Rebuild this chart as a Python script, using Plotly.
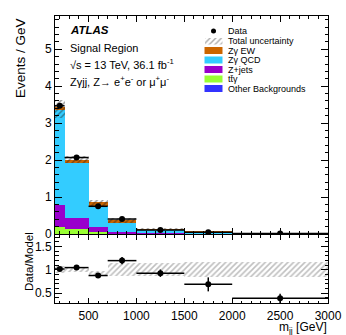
import numpy as np
import plotly.graph_objects as go

# ---------------- data ----------------
bin_edges = [150, 250, 500, 700, 1000, 1500, 2000, 3000]
others = [0.008, 0.008, 0.005, 0.003, 0.002, 0.001, 0.0005]
ttgamma = [0.17, 0.12, 0.05, 0.02, 0.005, 0.002, 0.001]
zjets = [0.61, 0.30, 0.13, 0.04, 0.01, 0.003, 0.001]
zg_qcd = [2.59, 1.49, 0.575, 0.237, 0.103, 0.024, 0.0095]
zg_ew = [0.05, 0.09, 0.11, 0.07, 0.015, 0.025, 0.013]
unc_low = [3.15, 1.92, 0.76, 0.30, 0.12, 0.045, 0.02]
unc_high = [3.62, 2.10, 0.93, 0.43, 0.15, 0.065, 0.03]
data = [3.47, 2.07, 0.75, 0.405, 0.11, 0.05, 0.012]
data_err = [0.04, 0.04, 0.035, 0.03, 0.01, 0.008, 0.003]
ratio = [1.02, 1.05, 0.88, 1.20, 0.93, 0.69, 0.39]
ratio_err = [0.02, 0.02, 0.04, 0.08, 0.08, 0.15, 0.10]
ratio_unc_low = [0.94, 0.95, 0.86, 0.86, 0.87, 0.84, 0.84]
ratio_unc_high = [1.08, 1.07, 0.97, 1.14, 1.14, 1.18, 1.18]

labels = ["Other Backgrounds", "tt\u0304\u03b3", "Z+jets", "Z\u03b3 QCD", "Z\u03b3 EW"]
colors = ["#3333ff", "#99ff33", "#9900cc", "#33ccff", "#cc6600"]

edges = np.array(bin_edges, dtype=float)
centers = 0.5 * (edges[1:] + edges[:-1])
widths = edges[1:] - edges[:-1]
halfw = widths / 2

# ---------------- geometry helpers (pixel -> paper) ----------------
W, H = 346, 335
L, R, T, B = 55, 18, 16, 32
PW, PH = W - L - R, H - T - B


def px(x):
    return (x - L) / PW


def py(y):
    return (H - B - y) / PH


fig = go.Figure()

# stacked components
bottom = np.zeros(len(centers))
for name, vals, col in zip(labels, [others, ttgamma, zjets, zg_qcd, zg_ew], colors):
    v = np.array(vals)
    fig.add_trace(go.Bar(x=centers, y=v, base=bottom, width=widths, name=name,
                         marker=dict(color=col, line=dict(width=0)),
                         xaxis="x", yaxis="y", showlegend=False))
    bottom = bottom + v

# total uncertainty (hatched)
lo = np.array(unc_low)
hi = np.array(unc_high)
fig.add_trace(go.Bar(x=centers, y=hi - lo, base=lo, width=widths,
                     marker=dict(color="rgba(0,0,0,0)", line=dict(width=0),
                                 pattern=dict(shape="/", fgcolor="#222222", size=4,
                                              solidity=0.35, fillmode="overlay")),
                     xaxis="x", yaxis="y", showlegend=False))

# data
fig.add_trace(go.Scatter(x=centers, y=data, mode="markers",
                         marker=dict(color="black", size=6),
                         error_y=dict(type="data", array=data_err, color="black", thickness=1.5, width=0),
                         error_x=dict(type="data", array=halfw, color="black", thickness=1.5, width=0),
                         xaxis="x", yaxis="y", showlegend=False))

# ratio band
rlo = np.array(ratio_unc_low)
rhi = np.array(ratio_unc_high)
fig.add_trace(go.Bar(x=centers, y=rhi - rlo, base=rlo, width=widths,
                     marker=dict(color="rgba(0,0,0,0)", line=dict(width=0),
                                 pattern=dict(shape="/", fgcolor="#808080", size=4,
                                              solidity=0.4, fillmode="overlay")),
                     xaxis="x2", yaxis="y2", showlegend=False))

fig.add_trace(go.Scatter(x=centers, y=ratio, mode="markers",
                         marker=dict(color="black", size=6),
                         error_y=dict(type="data", array=ratio_err, color="black", thickness=1.5, width=0),
                         error_x=dict(type="data", array=halfw, color="black", thickness=1.5, width=0),
                         xaxis="x2", yaxis="y2", showlegend=False))

# legend swatch for total uncertainty (tiny hidden axes)
fig.add_trace(go.Bar(x=[0], y=[1], width=[1],
                     marker=dict(color="rgba(0,0,0,0)", line=dict(width=0),
                                 pattern=dict(shape="/", fgcolor="#555555", size=4,
                                              solidity=0.35, fillmode="overlay")),
                     xaxis="x3", yaxis="y3", showlegend=False))

# data marker in legend
fig.add_trace(go.Scatter(x=[0], y=[0.5], mode="markers", marker=dict(color="black", size=5),
                         xaxis="x4", yaxis="y4", showlegend=False))

FONT = "Liberation Sans, Arial, Helvetica, sans-serif"
axis_common = dict(showline=True, linecolor="black", linewidth=1, mirror="ticks",
                   ticks="inside", tickcolor="black", showgrid=False, zeroline=False,
                   automargin=False,
                   tickfont=dict(family=FONT, size=12, color="black"))

main_bottom = py(234)
ratio_top = py(235)

fig.update_layout(
    width=W, height=H, autosize=False,
    margin=dict(l=L, r=R, t=T, b=B, autoexpand=False),
    paper_bgcolor="white", plot_bgcolor="white",
    barmode="overlay", bargap=0,
    font=dict(family=FONT, color="black"),
    xaxis=dict(domain=[0, 1], anchor="y", range=[150, 3000], tickvals=[500, 1000, 1500, 2000, 2500, 3000],
               showticklabels=False, ticklen=6,
               minor=dict(ticks="inside", dtick=100, tick0=0, ticklen=3, tickcolor="black"),
               **axis_common),
    yaxis=dict(domain=[main_bottom, 1], anchor="x", range=[0, 5.9], dtick=1, tick0=0, ticklen=7,
               minor=dict(ticks="inside", dtick=0.2, tick0=0, ticklen=3.5, tickcolor="black"),
               **axis_common),
    xaxis2=dict(domain=[0, 1], anchor="y2", range=[150, 3000], tickvals=[500, 1000, 1500, 2000, 2500, 3000],
                ticklen=5, ticklabelstandoff=2,
                minor=dict(ticks="inside", dtick=100, tick0=0, ticklen=2.5, tickcolor="black"),
                **axis_common),
    yaxis2=dict(domain=[0, ratio_top], anchor="x2", range=[0.29, 1.75], tickvals=[0.5, 1, 1.5],
                ticktext=["0.5", "1", "1.5"], ticklen=7,
                minor=dict(ticks="inside", dtick=0.1, tick0=0, ticklen=3.5, tickcolor="black"),
                **axis_common),
    xaxis3=dict(domain=[px(204.5), px(222.5)], anchor="y3", range=[-0.5, 0.5], visible=False),
    yaxis3=dict(domain=[py(44.5), py(38)], anchor="x3", range=[0, 1], visible=False),
    xaxis4=dict(domain=[px(204.5), px(222.5)], anchor="y4", range=[-0.5, 0.5], visible=False),
    yaxis4=dict(domain=[py(35), py(27)], anchor="x4", range=[0, 1], visible=False),
)

ann = []


def text(x, y, s, size, xanchor="left", yanchor="middle", angle=0):
    ann.append(dict(x=px(x), y=py(y), xref="paper", yref="paper", text=s, showarrow=False,
                    xanchor=xanchor, yanchor=yanchor, textangle=angle,
                    font=dict(family=FONT, size=size, color="black")))


text(68, 30, "<b><i>ATLAS</i></b>", 11.5)
text(68, 47.5, "Signal Region", 11)
text(68, 64, "\u221as = 13 TeV, 36.1 fb<sup>-1</sup>", 11)
text(68, 80.5, "Z\u03b3jj, Z\u2192 e<sup>+</sup>e<sup>-</sup> or \u03bc<sup>+</sup>\u03bc<sup>-</sup>", 11)

text(20, 58, "Events / GeV", 13.5, xanchor="center", angle=-90)
text(29, 262, "Data/Model", 11.5, xanchor="center", angle=-90)
text(329, 317.5, "m<sub>jj</sub> [GeV]", 12, xanchor="right", yanchor="top")

# legend
leg_y = [31, 41, 50.5, 60, 69.5, 79, 88.5]
leg_names = ["Data", "Total uncertainty"] + labels[::-1]
for yy, nm in zip(leg_y, leg_names):
    text(226, yy, nm, 9)

shapes = []
for yy, col in zip(leg_y[2:], colors[::-1]):
    shapes.append(dict(type="rect", xref="paper", yref="paper",
                       x0=px(204.5), x1=px(222.5), y0=py(yy + 3.5), y1=py(yy - 3.5),
                       fillcolor=col, line=dict(width=0)))
fig.update_layout(annotations=ann, shapes=shapes)

fig.write_html("out.html", config={"responsive": False, "displayModeBar": False},
               post_script="document.body.style.margin='0';document.body.style.padding='0';")
